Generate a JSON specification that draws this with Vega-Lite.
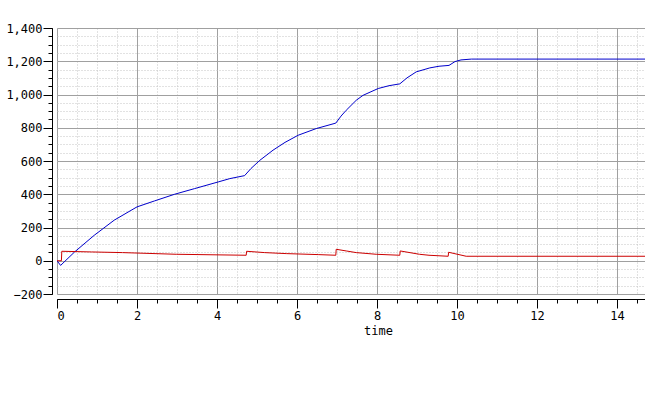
{
  "$schema": "https://vega.github.io/schema/vega-lite/v6.json",
  "autosize": {"type": "none"},
  "padding": {"left": 57, "top": 28, "right": 0, "bottom": 122},
  "width": 588,
  "height": 266,
  "config": {
    "view": {"stroke": null},
    "axis": {
      "labelFont": "DejaVu Sans Mono",
      "titleFont": "DejaVu Sans Mono",
      "labelFontSize": 12,
      "titleFontSize": 12,
      "labelColor": "#000000",
      "titleColor": "#000000",
      "titleFontWeight": "normal"
    }
  },
  "data": {
    "values": [
      {"series": "A", "t": 0, "v": 0},
      {"series": "A", "t": 0.09, "v": -28},
      {"series": "A", "t": 0.44, "v": 53},
      {"series": "A", "t": 0.93, "v": 153},
      {"series": "A", "t": 1.43, "v": 244},
      {"series": "A", "t": 2.0, "v": 324},
      {"series": "A", "t": 2.44, "v": 360},
      {"series": "A", "t": 2.94, "v": 400},
      {"series": "A", "t": 3.44, "v": 434},
      {"series": "A", "t": 4.03, "v": 474},
      {"series": "A", "t": 4.32, "v": 494},
      {"series": "A", "t": 4.69, "v": 512},
      {"series": "A", "t": 4.85, "v": 555},
      {"series": "A", "t": 5.07, "v": 604},
      {"series": "A", "t": 5.4, "v": 665},
      {"series": "A", "t": 5.7, "v": 712},
      {"series": "A", "t": 6.03, "v": 755},
      {"series": "A", "t": 6.48, "v": 795},
      {"series": "A", "t": 6.97, "v": 828},
      {"series": "A", "t": 7.1, "v": 870},
      {"series": "A", "t": 7.23, "v": 905},
      {"series": "A", "t": 7.48, "v": 965},
      {"series": "A", "t": 7.65, "v": 995},
      {"series": "A", "t": 8.03, "v": 1036},
      {"series": "A", "t": 8.3, "v": 1053},
      {"series": "A", "t": 8.57, "v": 1064},
      {"series": "A", "t": 8.75, "v": 1100},
      {"series": "A", "t": 8.98, "v": 1136},
      {"series": "A", "t": 9.32, "v": 1160},
      {"series": "A", "t": 9.55, "v": 1170},
      {"series": "A", "t": 9.8, "v": 1175},
      {"series": "A", "t": 9.95, "v": 1198},
      {"series": "A", "t": 10.1, "v": 1208},
      {"series": "A", "t": 10.36, "v": 1213},
      {"series": "A", "t": 14.7, "v": 1213},
      {"series": "B", "t": 0, "v": 0},
      {"series": "B", "t": 0.11, "v": 0},
      {"series": "B", "t": 0.12, "v": 57},
      {"series": "B", "t": 0.86, "v": 53},
      {"series": "B", "t": 1.64, "v": 49},
      {"series": "B", "t": 2.98, "v": 39},
      {"series": "B", "t": 4.73, "v": 33},
      {"series": "B", "t": 4.74, "v": 57},
      {"series": "B", "t": 5.19, "v": 49},
      {"series": "B", "t": 5.73, "v": 43},
      {"series": "B", "t": 6.53, "v": 37},
      {"series": "B", "t": 6.97, "v": 33},
      {"series": "B", "t": 6.98, "v": 69},
      {"series": "B", "t": 7.23, "v": 59},
      {"series": "B", "t": 7.48, "v": 49},
      {"series": "B", "t": 7.98, "v": 39},
      {"series": "B", "t": 8.57, "v": 33},
      {"series": "B", "t": 8.58, "v": 59},
      {"series": "B", "t": 9.06, "v": 39},
      {"series": "B", "t": 9.3, "v": 33},
      {"series": "B", "t": 9.78, "v": 27},
      {"series": "B", "t": 9.79, "v": 51},
      {"series": "B", "t": 10.23, "v": 27},
      {"series": "B", "t": 14.7, "v": 27}
    ]
  },
  "layer": [
    {
      "mark": {"type": "line", "opacity": 0},
      "encoding": {
        "x": {
          "field": "t", "type": "quantitative",
          "scale": {"domain": [0, 14.7], "nice": false, "zero": false},
          "axis": {
            "orient": "bottom", "values": [0,0.5,1,1.5,2,2.5,3,3.5,4,4.5,5,5.5,6,6.5,7,7.5,8,8.5,9,9.5,10,10.5,11,11.5,12,12.5,13,13.5,14,14.5],
            "labels": false, "title": null, "domain": false, "offset": 5,
            "tickSize": 4, "tickColor": "#000000",
            "grid": true, "gridColor": "#c4c4c4", "gridDash": [1, 2], "gridWidth": 1
          }
        },
        "y": {
          "field": "v", "type": "quantitative",
          "scale": {"domain": [-200, 1400], "nice": false, "zero": false},
          "axis": {
            "orient": "left", "values": [-200,-150,-100,-50,0,50,100,150,200,250,300,350,400,450,500,550,600,650,700,750,800,850,900,950,1000,1050,1100,1150,1200,1250,1300,1350,1400],
            "labels": false, "title": null, "domain": false, "offset": 5,
            "tickSize": 4, "tickColor": "#000000",
            "grid": true, "gridColor": "#c4c4c4", "gridDash": [1, 2], "gridWidth": 1
          }
        },
        "detail": {"field": "series"}
      }
    },
    {
      "mark": {"type": "line", "strokeWidth": 1, "clip": true},
      "encoding": {
        "x": {
          "field": "t", "type": "quantitative",
          "axis": {
            "orient": "bottom", "values": [0,2,4,6,8,10,12,14],
            "format": "d",
            "title": "time", "titleX": 321, "titlePadding": 4,
            "domain": true, "domainColor": "#000000", "offset": 5,
            "tickSize": 9, "tickColor": "#000000", "labelPadding": 2,
            "grid": true, "gridColor": "#a0a0a0", "gridWidth": 1
          }
        },
        "y": {
          "field": "v", "type": "quantitative",
          "axis": {
            "orient": "left", "values": [-200,0,200,400,600,800,1000,1200,1400],
            "format": ",.0f", "title": null,
            "domain": true, "domainColor": "#000000", "offset": 5,
            "tickSize": 9, "tickColor": "#000000", "labelPadding": 1,
            "grid": true, "gridColor": "#a0a0a0", "gridWidth": 1
          }
        },
        "color": {
          "field": "series", "type": "nominal",
          "scale": {"domain": ["A", "B"], "range": ["#0000cc", "#cc0000"]},
          "legend": null
        }
      }
    }
  ],
  "resolve": {"axis": {"x": "independent", "y": "independent"}}
}
